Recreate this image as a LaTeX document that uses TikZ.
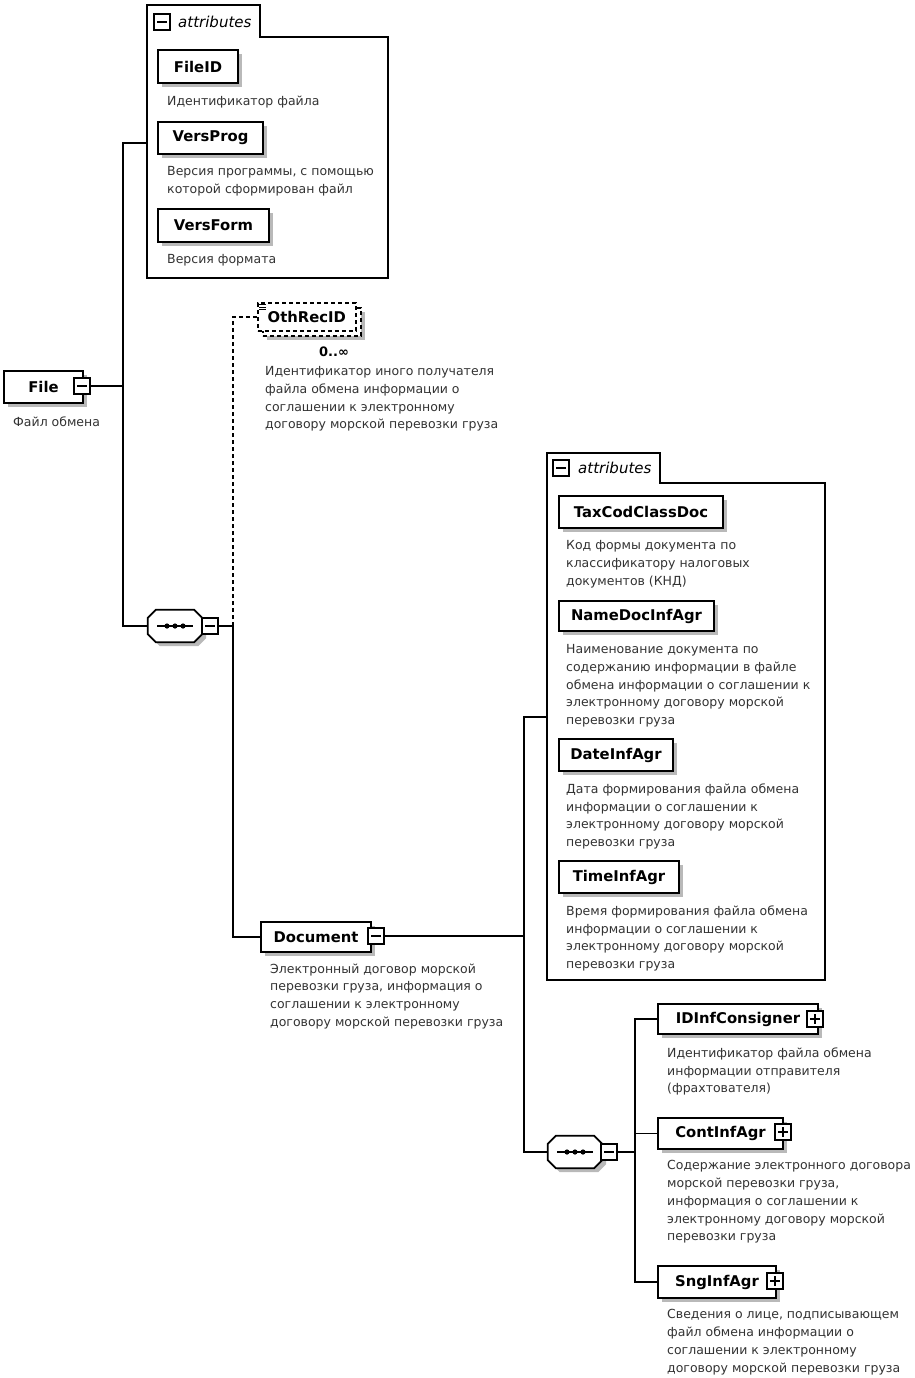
\documentclass[tikz,border=0pt]{standalone}
\usepackage{fontspec}
\setmainfont{DejaVu Sans}
\usetikzlibrary{shadows}
\newcommand\octopath[3]{([xshift=#2+8pt,yshift=#3]#1.north west) -- ([xshift=#2-8pt,yshift=#3]#1.north east) -- ([xshift=#2,yshift=#3-8pt]#1.north east) -- ([xshift=#2,yshift=#3+8pt]#1.south east) -- ([xshift=#2-8pt,yshift=#3]#1.south east) -- ([xshift=#2+8pt,yshift=#3]#1.south west) -- ([xshift=#2,yshift=#3+8pt]#1.south west) -- ([xshift=#2,yshift=#3-8pt]#1.north west) -- cycle}
\begin{document}
\begin{tikzpicture}[x=1pt,y=-1pt,
  conn/.style={line width=1.8pt},
  sh/.style={drop shadow={shadow xshift=4pt,shadow yshift=-4pt,fill=gray!55,opacity=1}},
  elem/.style={draw, line width=2pt, fill=white, anchor=north west, inner sep=0pt,
    font=\fontsize{14.8}{17}\selectfont\bfseries, sh},
  desc/.style={anchor=north west, inner sep=0pt, align=left, text=black!80,
    font=\fontsize{12.5}{17.7}\selectfont},
  minusi/.style={draw, line width=1.4pt, fill=white, minimum size=16pt, inner sep=0pt,
    path picture={\draw[line width=1.5pt] ([xshift=3pt]path picture bounding box.west) -- ([xshift=-3pt]path picture bounding box.east);}},
  plusi/.style={draw, line width=1.4pt, fill=white, minimum size=16pt, inner sep=0pt,
    path picture={\draw[line width=1.5pt] ([xshift=3pt]path picture bounding box.west) -- ([xshift=-3pt]path picture bounding box.east);
      \draw[line width=1.5pt] ([yshift=-3pt]path picture bounding box.north) -- ([yshift=3pt]path picture bounding box.south);}},
  seqbox/.style={minimum width=54pt, minimum height=32pt, inner sep=0pt},
  attrtxt/.style={anchor=west, inner sep=0pt, font=\fontsize{15}{17}\selectfont\itshape},
  dsh/.style={dash pattern=on 4pt off 3pt}
]
\useasboundingbox[fill=white] (0,0) rectangle (915,1378);

% ---------- attributes group 1 ----------
\draw[line width=1.8pt, fill=white] (147,278) -- (147,5) -- (260,5) -- (260,37) -- (388,37) -- (388,278) -- cycle;
\coordinate (attr1in) at (147,143);
\node[minusi] (a1m) at (162,22) {};
\node[attrtxt] (a1t) at (178,22) {attributes};

\node[elem, minimum width=80pt, minimum height=33pt] (fileid) at (157,49) {FileID};
\node[desc] (d1) at (167,95.5) {Идентификатор файла};
\node[elem, minimum width=105pt, minimum height=32pt] (versprog) at (157,121) {VersProg};
\node[desc] (d2) at (167,166.5) {Версия программы, с помощью\\которой сформирован файл};
\node[elem, minimum width=111pt, minimum height=33pt] (versform) at (157,208) {VersForm};
\node[desc] (d3) at (167,254.5) {Версия формата};

% ---------- File ----------
\node[elem, minimum width=79pt, minimum height=32pt] (file) at (3,370) {File\hspace{22pt}};
\node[minusi] (filem) at (82,386) {};
\node[desc] (d4) at (13,416.5) {Файл обмена};

% ---------- sequence 1 ----------
\node[seqbox] (seq1) at (175,626) {};
\fill[gray!55] \octopath{seq1}{4pt}{-4pt};
\draw[line width=1.8pt, fill=white] \octopath{seq1}{0pt}{0pt};
\draw[line width=1.5pt] ([xshift=-18pt]seq1.center) -- ([xshift=18pt]seq1.center);
\foreach \dx in {-8,0,8} \fill ([xshift=\dx pt]seq1.center) circle (2.6pt);
\node[minusi] (seq1m) at (210,626) {};

\coordinate (j1) at (123,386);
\coordinate (j2) at (233,626);
\draw[conn] (filem.east) -- (j1);
\draw[conn] (attr1in) -| (j1) |- (seq1.west);
\draw[conn] (seq1m.east) -- (j2);

% ---------- OthRecID ----------
\node[draw, line width=1.6pt, dsh, fill=white, minimum width=98pt, minimum height=28pt, anchor=north west, sh] (othback) at (262,307) {};
\node[draw, line width=1.6pt, dsh, fill=white, minimum width=98pt, minimum height=28pt, anchor=north west, inner sep=0pt,
  font=\fontsize{14.8}{17}\selectfont\bfseries] (oth) at (257,302) {OthRecID};
\foreach \yy in {304.5,307,309.5} \draw[line width=0.9pt] (259,\yy) -- (266,\yy);
\node[inner sep=0pt, font=\fontsize{13}{15}\selectfont\bfseries] (othmult) at (334,352) {0..∞};
\node[desc] (d5) at (265,366.5) {Идентификатор иного получателя\\файла обмена информации о\\соглашении к электронному\\договору морской перевозки груза};
\draw[conn, dsh] (j2) |- (oth.west);

% ---------- Document ----------
\node[elem, minimum width=110pt, minimum height=30pt] (doc) at (260,921) {Document};
\node[minusi] (docm) at (376,936) {};
\node[desc] (d6) at (270,963.5) {Электронный договор морской\\перевозки груза, информация о\\соглашении к электронному\\договору морской перевозки груза};
\draw[conn] (j2) |- (doc.west);

% ---------- attributes group 2 ----------
\draw[line width=1.8pt, fill=white] (547,980) -- (547,453) -- (660,453) -- (660,483) -- (825,483) -- (825,980) -- cycle;
\coordinate (attr2in) at (547,717);
\node[minusi] (a2m) at (561,468) {};
\node[attrtxt] (a2t) at (578,468) {attributes};

\node[elem, minimum width=164pt, minimum height=32pt] (taxcod) at (558,495) {TaxCodClassDoc};
\node[desc] (d7) at (566,540.5) {Код формы документа по\\классификатору налоговых\\документов (КНД)};
\node[elem, minimum width=155pt, minimum height=30pt] (namedoc) at (558,600) {NameDocInfAgr};
\node[desc] (d8) at (566,644.5) {Наименование документа по\\содержанию информации в файле\\обмена информации о соглашении к\\электронному договору морской\\перевозки груза};
\node[elem, minimum width=114pt, minimum height=32pt] (dateinf) at (558,738) {DateInfAgr};
\node[desc] (d9) at (566,783.5) {Дата формирования файла обмена\\информации о соглашении к\\электронному договору морской\\перевозки груза};
\node[elem, minimum width=120pt, minimum height=32pt] (timeinf) at (558,860) {TimeInfAgr};
\node[desc] (d10) at (566,905.5) {Время формирования файла обмена\\информации о соглашении к\\электронному договору морской\\перевозки груза};

% ---------- sequence 2 ----------
\node[seqbox] (seq2) at (575,1152) {};
\fill[gray!55] \octopath{seq2}{4pt}{-4pt};
\draw[line width=1.8pt, fill=white] \octopath{seq2}{0pt}{0pt};
\draw[line width=1.5pt] ([xshift=-18pt]seq2.center) -- ([xshift=18pt]seq2.center);
\foreach \dx in {-8,0,8} \fill ([xshift=\dx pt]seq2.center) circle (2.6pt);
\node[minusi] (seq2m) at (609,1152) {};

\coordinate (j3) at (524,936);
\coordinate (j4) at (635,1152);
\draw[conn] (docm.east) -- (j3);
\draw[conn] (attr2in) -| (j3) |- (seq2.west);
\draw[conn] (seq2m.east) -- (j4);

% ---------- children ----------
\node[elem, minimum width=160pt, minimum height=30pt] (idinf) at (657,1003) {IDInfConsigner\hspace{8pt}};
\node[plusi] (idinfp) at (815,1019) {};
\node[desc] (d11) at (667,1047.5) {Идентификатор файла обмена\\информации отправителя\\(фрахтователя)};
\node[elem, minimum width=125pt, minimum height=31pt] (cont) at (657,1117) {ContInfAgr\hspace{6pt}};
\node[plusi] (contp) at (783,1132) {};
\node[desc] (d12) at (667,1160.5) {Содержание электронного договора\\морской перевозки груза,\\информация о соглашении к\\электронному договору морской\\перевозки груза};
\node[elem, minimum width=118pt, minimum height=32pt] (sng) at (657,1265) {SngInfAgr\hspace{6pt}};
\node[plusi] (sngp) at (775,1281) {};
\node[desc] (d13) at (667,1309.5) {Сведения о лице, подписывающем\\файл обмена информации о\\соглашении к электронному\\договору морской перевозки груза};

\draw[conn] (j4) |- (idinf.west);
\draw[conn] (j4) |- (cont.west);
\draw[conn] (j4) |- (sng.west);
\end{tikzpicture}
\end{document}
